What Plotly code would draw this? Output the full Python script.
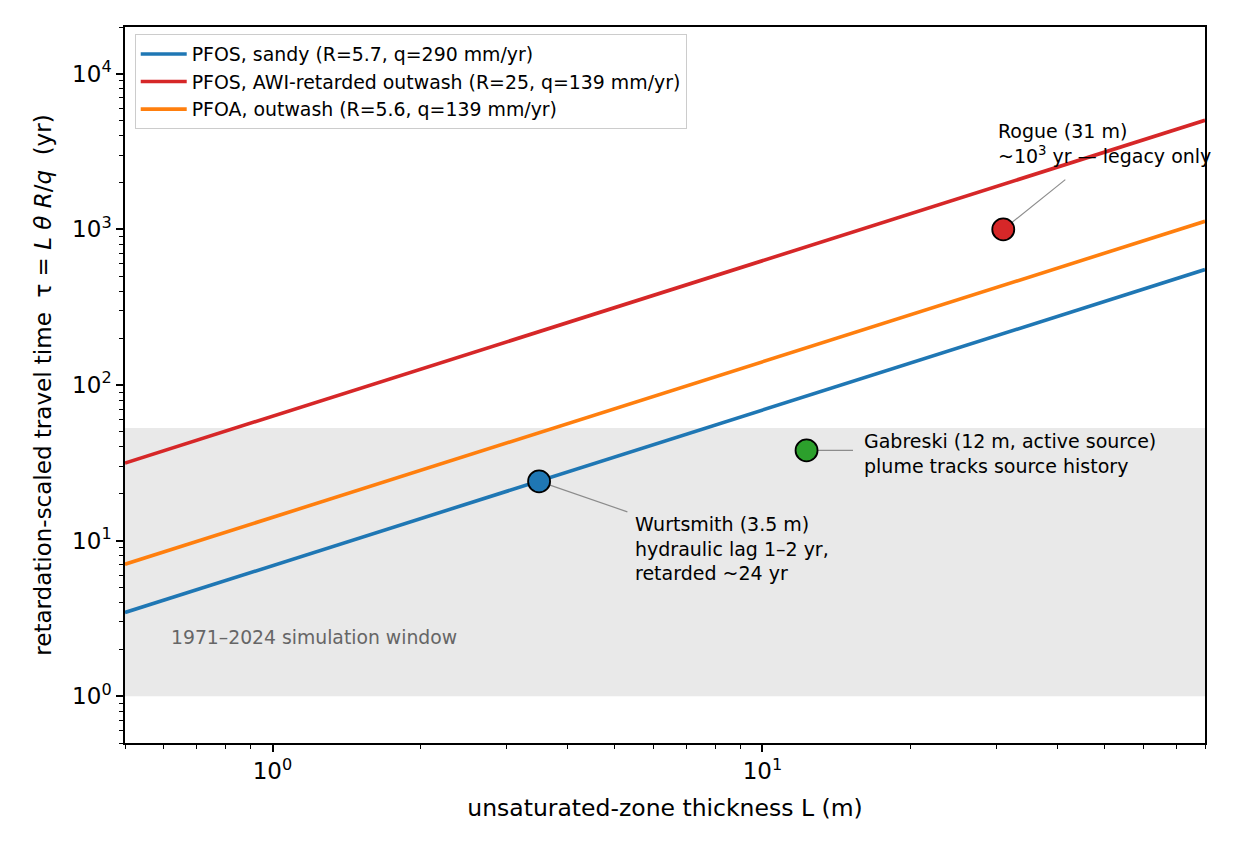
import numpy as np
import plotly.graph_objects as go

# ---- data ----
L_ends = [0.5, 80]                       # unsaturated-zone thickness (m)
tau_sandy = [3.45, 552]                  # PFOS, sandy
tau_awi = [31.5, 5030]                   # PFOS, AWI-retarded outwash
tau_pfoa = [7.05, 1128]                  # PFOA, outwash

series_names = [
    "PFOS, sandy (R=5.7, q=290 mm/yr)",
    "PFOS, AWI-retarded outwash (R=25, q=139 mm/yr)",
    "PFOA, outwash (R=5.6, q=139 mm/yr)",
]
series_colors = ["#1f77b4", "#d62728", "#ff7f0e"]

site_names = ["Wurtsmith", "Gabreski", "Rogue"]
site_L = [3.5, 12.3, 31]
site_tau = [24, 38, 1000]
site_colors = ["#1f77b4", "#2ca02c", "#d62728"]
site_labels = [
    "Wurtsmith (3.5 m)<br>hydraulic lag 1–2 yr,<br>retarded ~24 yr",
    "Gabreski (12 m, active source)<br>plume tracks source history",
    "Rogue (31 m)<br>~10<sup>3</sup> yr — legacy only",
]
# leader-line tail points (data units) and text anchor points (data units)
tail_L = [5.3, 15.3, 41.5]
tail_tau = [15.3, 38, 2090]
text_L = [5.45, 15.95, 30.0]
text_tau = [15.4, 36.5, 5200]
text_anchor = [("left", "top"), ("left", "middle"), ("left", "top")]

window = [1, 53]                         # 1971–2024 simulation window (yr)
window_label = "1971–2024 simulation window"
window_label_pos = (0.615, 2.39)

x_range = [0.5, 80]
y_range = [0.5, 2e4]
x_ticks = [1, 10]
x_ticktext = ["10<sup>0</sup>", "10<sup>1</sup>"]
y_ticks = [1, 10, 100, 1000, 10000]
y_ticktext = ["10<sup>0</sup>", "10<sup>1</sup>", "10<sup>2</sup>", "10<sup>3</sup>", "10<sup>4</sup>"]

FONT = "DejaVu Sans"


def minor_vals(lo, hi):
    out = []
    for d in range(int(np.floor(np.log10(lo))), int(np.ceil(np.log10(hi))) + 1):
        for k in range(2, 10):
            v = k * 10.0 ** d
            if lo <= v <= hi:
                out.append(v)
    return out


fig = go.Figure()

# shaded simulation window
fig.add_trace(go.Scatter(
    x=[x_range[0], x_range[1], x_range[1], x_range[0], x_range[0]],
    y=[window[0], window[0], window[1], window[1], window[0]],
    fill="toself", fillcolor="rgba(211,211,211,0.5)", mode="none",
    showlegend=False, hoverinfo="skip"))

for name, col, tau in zip(series_names, series_colors, [tau_sandy, tau_awi, tau_pfoa]):
    fig.add_trace(go.Scatter(x=L_ends, y=tau, mode="lines", name=name,
                             line=dict(color=col, width=3.6)))

# leader lines
for i in range(len(site_names)):
    fig.add_trace(go.Scatter(x=[site_L[i], tail_L[i]], y=[site_tau[i], tail_tau[i]],
                             mode="lines", line=dict(color="#8c8c8c", width=1.2),
                             showlegend=False, hoverinfo="skip"))

# site markers
fig.add_trace(go.Scatter(x=site_L, y=site_tau, mode="markers", showlegend=False,
                         marker=dict(size=22, color=site_colors,
                                     line=dict(color="black", width=1.8))))

for i in range(len(site_names)):
    xa, ya = text_anchor[i]
    fig.add_annotation(x=np.log10(text_L[i]), y=np.log10(text_tau[i]), xref="x", yref="y",
                       text=site_labels[i], showarrow=False, xanchor=xa, yanchor=ya,
                       align="left", font=dict(family=FONT, size=19, color="black"))

fig.add_annotation(x=np.log10(window_label_pos[0]), y=np.log10(window_label_pos[1]),
                   xref="x", yref="y", text=window_label, showarrow=False,
                   xanchor="left", yanchor="middle",
                   font=dict(family=FONT, size=18.8, color="#666666"))

axis_common = dict(showline=True, linecolor="black", linewidth=1.5, mirror=True,
                   ticks="outside", ticklen=7, tickwidth=1.5, tickcolor="black",
                   showgrid=False, zeroline=False,
                   tickfont=dict(family=FONT, size=23, color="black"))

fig.update_xaxes(type="log", range=[np.log10(x_range[0]), np.log10(x_range[1])],
                 tickmode="array", tickvals=x_ticks, ticktext=x_ticktext,
                 minor=dict(ticks="outside", ticklen=4, tickwidth=1.1, tickcolor="black",
                            tickmode="array", tickvals=minor_vals(*x_range), showgrid=False),
                 title=dict(text="unsaturated-zone thickness L (m)",
                            font=dict(family=FONT, size=23.5, color="black"), standoff=16),
                 **axis_common)
fig.update_yaxes(type="log", range=[np.log10(y_range[0]), np.log10(y_range[1])],
                 tickmode="array", tickvals=y_ticks, ticktext=y_ticktext,
                 minor=dict(ticks="outside", ticklen=4, tickwidth=1.1, tickcolor="black",
                            tickmode="array", tickvals=minor_vals(*y_range), showgrid=False),
                 title=dict(text="retardation-scaled travel time&nbsp;&nbsp;τ = <i>L θ R</i>/<i>q</i>&nbsp;&nbsp;(yr)",
                            font=dict(family=FONT, size=23, color="black"), standoff=14),
                 **axis_common)

fig.update_layout(
    width=1258, height=850,
    margin=dict(l=125, r=53, t=27, b=107),
    plot_bgcolor="white", paper_bgcolor="white",
    font=dict(family=FONT, color="black"),
    legend=dict(x=0.009, y=0.99, xanchor="left", yanchor="top",
                bgcolor="rgba(255,255,255,0.85)", bordercolor="#cccccc", borderwidth=1,
                font=dict(family=FONT, size=18.9, color="black"),
                itemwidth=46, tracegroupgap=0),
)

fig.write_html("out.html")
